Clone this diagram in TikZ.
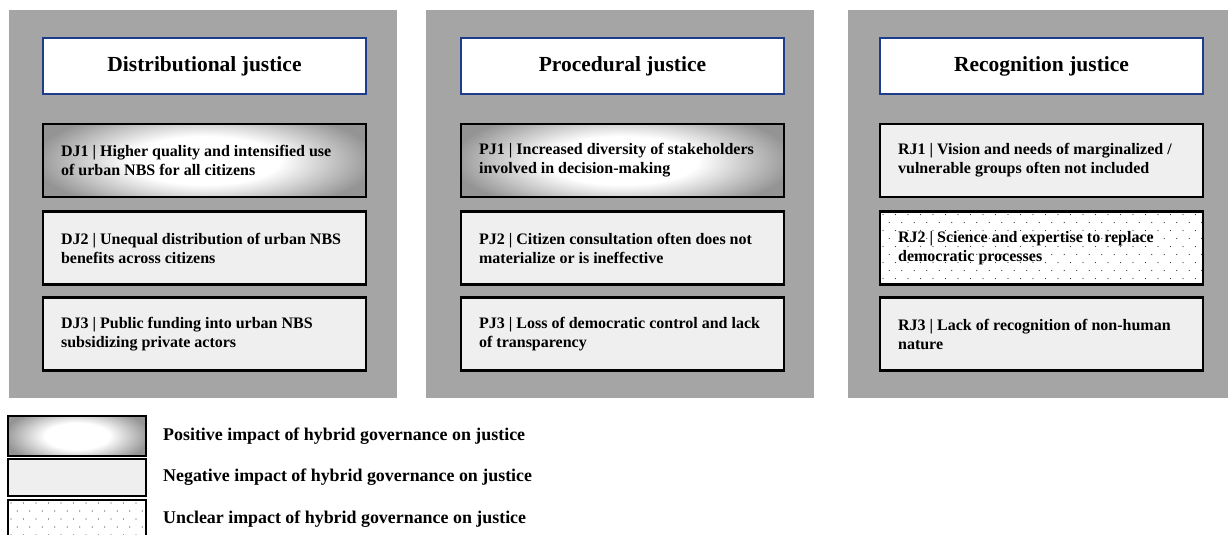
\documentclass[tikz,border=0pt]{standalone}
\usepackage{fontspec}
\setmainfont{Liberation Serif}
\definecolor{panelgray}{RGB}{165,165,165}
\definecolor{negfill}{RGB}{239,239,239}
\definecolor{titleblue}{RGB}{30,60,140}
\pgfdeclareradialshading{posshade}{\pgfpointorigin}{color(0bp)=(white); color(11bp)=(white); color(25bp)=(black!42); color(50bp)=(black!42)}
\tikzset{
  panel/.style={fill=panelgray, draw=none},
  titlebox/.style={draw=titleblue, line width=1.4pt, fill=white, minimum width=323pt, minimum height=56pt, font=\bfseries\fontsize{21.5}{24}\selectfont, inner sep=0pt},
  itembox/.style={draw=black, line width=2.2pt, minimum width=323pt, minimum height=73pt, inner sep=0pt},
  itemtext/.style={anchor=west, align=left, inner sep=0pt, font=\bfseries\fontsize{16}{19}\selectfont},
  posbox/.style={fill=black!42, path picture={
      \shade[shading=posshade] (path picture bounding box.center) ellipse ({0.53*\pgfkeysvalueof{/pgf/minimum width}} and {0.75*\pgfkeysvalueof{/pgf/minimum height}});
    }},
  negbox/.style={fill=negfill},
  dotbox/.style={fill=white, path picture={
      \foreach \r in {0,...,12} {
        \foreach \c in {0,...,30} {
          \pgfmathsetmacro{\xx}{\c*12.5 + mod(\r,2)*6.25 + 3}
          \fill[black!75] ([xshift=\xx pt, yshift=-\r*8pt-3pt]path picture bounding box.north west) circle (0.7pt);
        }
      }
    }},
  legbox/.style={draw=black, line width=2pt, minimum width=138pt, inner sep=0pt},
  legtext/.style={anchor=west, font=\bfseries\fontsize{17.9}{21}\selectfont, inner sep=0pt},
}
\begin{document}
\begin{tikzpicture}[x=1pt,y=-1pt]
\useasboundingbox (0,0) rectangle (1228,535);
% panels
\fill[panel] (9,10) rectangle (397,398);
\fill[panel] (426,10) rectangle (814,398);
\fill[panel] (848,10) rectangle (1236,398);
% titles
\node[titlebox] (t1) at (204.5,66) {Distributional justice};
\node[titlebox] (t2) at (622.5,66) {Procedural justice};
\node[titlebox] (t3) at (1041.5,66) {Recognition justice};
% distributional
\node[itembox, posbox] (dj1) at (204.5,160.5) {};
\node[itembox, negbox] (dj2) at (204.5,248) {};
\node[itembox, negbox] (dj3) at (204.5,334) {};
\node[itemtext] (dj1t) at ([xshift=19pt]dj1.west) {DJ1 | Higher quality and intensified use\\of urban NBS for all citizens};
\node[itemtext] (dj2t) at ([xshift=19pt]dj2.west) {DJ2 | Unequal distribution of urban NBS\\benefits across citizens};
\node[itemtext] (dj3t) at ([xshift=19pt]dj3.west) {DJ3 | Public funding into urban NBS\\subsidizing private actors};
% procedural
\node[itembox, posbox] (pj1) at (622.5,160.5) {};
\node[itembox, negbox] (pj2) at (622.5,248) {};
\node[itembox, negbox] (pj3) at (622.5,334) {};
\node[itemtext] (pj1t) at ([xshift=19pt]pj1.west) {PJ1 | Increased diversity of stakeholders\\involved in decision-making};
\node[itemtext] (pj2t) at ([xshift=19pt]pj2.west) {PJ2 | Citizen consultation often does not\\materialize or is ineffective};
\node[itemtext] (pj3t) at ([xshift=19pt]pj3.west) {PJ3 | Loss of democratic control and lack\\of transparency};
% recognition
\node[itembox, negbox] (rj1) at (1041.5,160.5) {};
\node[itembox, dotbox] (rj2) at (1041.5,248) {};
\node[itembox, negbox] (rj3) at (1041.5,334) {};
\node[itemtext] (rj1t) at ([xshift=19pt]rj1.west) {RJ1 | Vision and needs of marginalized /\\vulnerable groups often not included};
\node[itemtext] (rj2t) at ([xshift=19pt]rj2.west) {RJ2 | Science and expertise to replace\\democratic processes};
\node[itemtext] (rj3t) at ([xshift=19pt]rj3.west) {RJ3 | Lack of recognition of non-human\\nature};
% legend
\node[legbox, minimum height=40pt, posbox] (l1) at (77,436) {};
\node[legbox, minimum height=37pt, negbox] (l2) at (77,477.5) {};
\node[legbox, minimum height=40pt, dotbox] (l3) at (77,520) {};
\node[legtext] (lt1) at (163,436) {Positive impact of hybrid governance on justice};
\node[legtext] (lt2) at (163,477) {Negative impact of hybrid governance on justice};
\node[legtext] (lt3) at (163,519) {Unclear impact of hybrid governance on justice};
\end{tikzpicture}
\end{document}
